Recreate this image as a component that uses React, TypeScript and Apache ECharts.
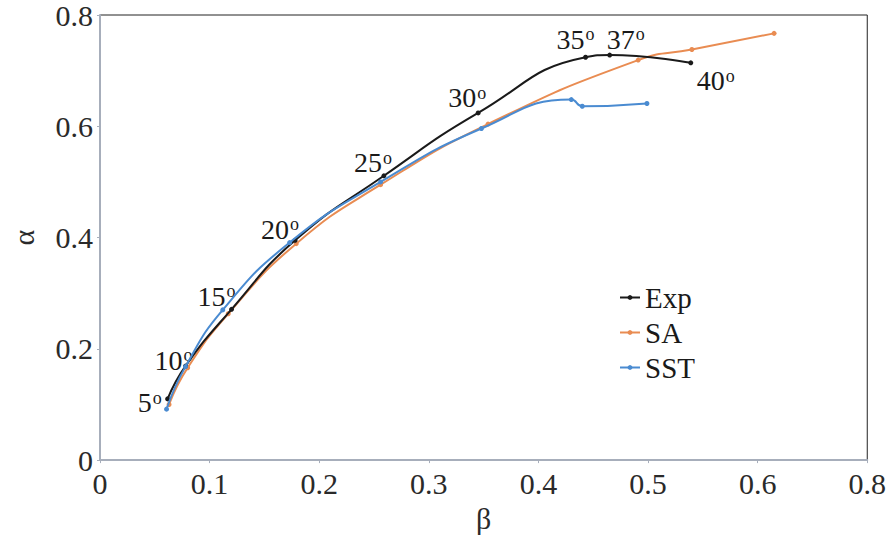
import React, { useEffect, useRef } from "react";
import * as echarts from "echarts";

// Attack angle labels for each measured point
const angles = ["5", "10", "15", "20", "25", "30", "35", "37", "40"];

// β (x) and α (y) values for each series
const expBeta = [0.0617, 0.078, 0.12, 0.178, 0.259, 0.345, 0.443, 0.465, 0.539];
const expAlpha = [0.11, 0.169, 0.271, 0.395, 0.511, 0.624, 0.724, 0.728, 0.714];

const saBeta = [0.063, 0.08, 0.117, 0.179, 0.256, 0.354, 0.491, 0.54, 0.615];
const saAlpha = [0.1, 0.166, 0.263, 0.389, 0.495, 0.604, 0.719, 0.738, 0.767];

const sstBeta = [0.0607, 0.078, 0.112, 0.173, 0.256, 0.348, 0.43, 0.44, 0.499];
const sstAlpha = [0.0916, 0.168, 0.27, 0.391, 0.5, 0.596, 0.648, 0.636, 0.641];

// Tick labels as printed on the original axes
const xTickLabels = ["0", "0.1", "0.2", "0.3", "0.4", "0.5", "0.6", "0.8"];
const yTickLabels = ["0", "0.2", "0.4", "0.6", "0.8"];

const seriesNames = ["Exp", "SA", "SST"];

// Label placement (pixel offsets from each Exp point)
const labelOffsets: [number, number][] = [
  [-18, 4],
  [-12, -6],
  [-15, -13],
  [-15, -11],
  [-11, -13],
  [-11, -15],
  [-10, -18],
  [16, -16],
  [25, 18],
];

const FONT = "Liberation Serif";
const COLORS = ["#1a1a1a", "#e98c52", "#4a8bd1"];

function zip(xs: number[], ys: number[]) {
  return xs.map((x, i) => [x, ys[i]]);
}

export default function App() {
  const ref = useRef<HTMLDivElement>(null);

  useEffect(() => {
    if (!ref.current) return;
    const chart = echarts.init(ref.current, null, { renderer: "svg" });

    const expData = zip(expBeta, expAlpha).map((v, i) => ({
      value: v,
      label: { offset: labelOffsets[i] },
    }));

    const baseSeries = (name: string, color: string, data: any[]) => ({
      name,
      type: "line",
      data,
      smooth: 0.5,
      symbol: "circle",
      symbolSize: 5,
      showSymbol: true,
      lineStyle: { color, width: 2 },
      itemStyle: { color },
    });

    chart.setOption({
      animation: false,
      backgroundColor: "#ffffff",
      textStyle: { fontFamily: FONT },
      grid: {
        left: 96,
        right: 20,
        top: 13,
        bottom: 71,
        show: true,
        borderColor: "#222222",
        borderWidth: 1,
      },
      legend: {
        orient: "vertical",
        left: 614,
        top: 278,
        itemWidth: 20,
        itemHeight: 6,
        itemGap: 6,
        data: seriesNames,
        textStyle: { fontFamily: FONT, fontSize: 29, color: "#1a1a1a" },
      },
      xAxis: {
        type: "value",
        min: 0,
        max: 0.7,
        interval: 0.1,
        name: "β",
        nameLocation: "middle",
        nameGap: 39,
        nameTextStyle: { fontFamily: FONT, fontSize: 30, color: "#2a2a2a" },
        axisLine: { show: true, lineStyle: { color: "#a7aebb", width: 2 } },
        axisTick: { show: true, length: 3, lineStyle: { color: "#a7aebb" } },
        splitLine: { show: false },
        axisLabel: {
          fontFamily: FONT,
          fontSize: 30,
          color: "#2a2a2a",
          margin: 8,
          formatter: (v: number) => xTickLabels[Math.round(v * 10)] ?? "",
        },
      },
      yAxis: {
        type: "value",
        min: 0,
        max: 0.8,
        interval: 0.2,
        name: "α",
        nameLocation: "middle",
        nameRotate: 90,
        nameGap: 62,
        nameTextStyle: { fontFamily: FONT, fontSize: 30, color: "#2a2a2a" },
        axisLine: { show: true, lineStyle: { color: "#a7aebb", width: 2 } },
        axisTick: { show: true, length: 3, lineStyle: { color: "#a7aebb" } },
        splitLine: { show: false },
        axisLabel: {
          fontFamily: FONT,
          fontSize: 30,
          color: "#2a2a2a",
          margin: 7,
          formatter: (v: number) => yTickLabels[Math.round(v * 5)] ?? "",
        },
      },
      series: [
        {
          ...baseSeries(seriesNames[0], COLORS[0], expData),
          z: 3,
          label: {
            show: true,
            position: "inside",
            formatter: (p: any) => `{n|${angles[p.dataIndex]}}{o|o}`,
            rich: {
              n: { fontFamily: FONT, fontSize: 28, color: "#1a1a1a" },
              o: { fontFamily: FONT, fontSize: 18, color: "#1a1a1a", verticalAlign: "top", padding: [0, 0, 8, 1] },
            },
          },
        },
        { ...baseSeries(seriesNames[1], COLORS[1], zip(saBeta, saAlpha)), z: 2 },
        { ...baseSeries(seriesNames[2], COLORS[2], zip(sstBeta, sstAlpha)), z: 4 },
      ],
    });

    return () => chart.dispose();
  }, []);

  return (
    <div
      ref={ref}
      style={{ position: "fixed", left: 0, top: 0, width: 889, height: 538, background: "#fff" }}
    />
  );
}
